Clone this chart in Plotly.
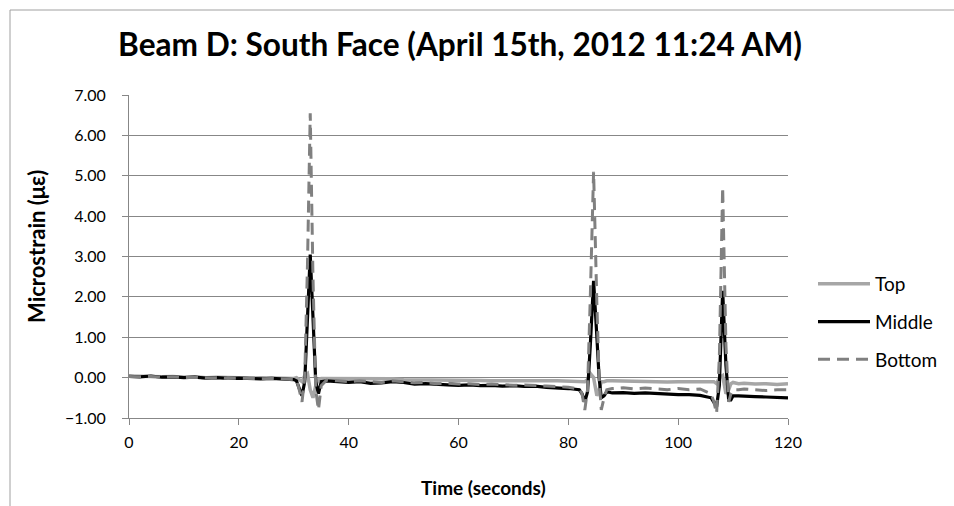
import plotly.graph_objects as go

# ---- data ----
time_s = [0, 2, 4, 6, 8, 10, 12, 14, 16, 18, 20, 22, 24, 26, 28, 30,
          30.5, 31, 31.5, 32, 32.5, 33, 33.5, 34, 34.5, 35,
          36, 38, 40, 42, 44, 46, 48, 50, 52, 54, 56, 58, 60, 62, 64, 66, 68, 70,
          72, 74, 76, 78, 80, 82,
          82.5, 83, 83.5, 84, 84.6, 85.2, 85.6, 86, 86.5, 87,
          88, 90, 92, 94, 96, 98, 100, 102, 104, 106,
          106.5, 107, 107.5, 108.1, 108.7, 109.2, 109.6, 110,
          111, 112, 114, 116, 118, 120]

top = [0.04, 0.03, 0.03, 0.02, 0.03, 0.01, 0.02, 0.0, 0.01, 0.0, 0.0, -0.01, 0.0, -0.01, -0.02, -0.02,
       0.0, -0.05, -0.1, 0.05, 0.1, -0.3, -0.5, -0.2, -0.05, -0.02,
       -0.02, -0.02, -0.03, -0.02, -0.03, -0.04, -0.03, -0.05, -0.05, -0.06, -0.06, -0.07, -0.07, -0.06,
       -0.07, -0.08, -0.07, -0.08, -0.08, -0.07, -0.08, -0.08, -0.08, -0.08,
       -0.08, -0.1, -0.05, 0.1, 0.0, -0.45, -0.3, -0.1, -0.1, -0.08,
       -0.08, -0.09, -0.1, -0.09, -0.1, -0.11, -0.1, -0.1, -0.08, -0.1,
       -0.1, -0.15, 0.0, 0.05, -0.4, -0.3, -0.15, -0.12,
       -0.15, -0.14, -0.16, -0.15, -0.17, -0.15]

middle = [0.03, 0.02, 0.04, 0.01, 0.02, 0.0, 0.01, -0.01, 0.0, -0.02, -0.01, -0.02, -0.03, -0.02, -0.04, -0.05,
          -0.08, -0.25, -0.45, -0.1, 1.3, 3.05, 1.5, -0.1, -0.4, -0.1,
          -0.08, -0.1, -0.12, -0.1, -0.14, -0.13, -0.1, -0.12, -0.16, -0.15, -0.17, -0.18, -0.19, -0.18,
          -0.2, -0.19, -0.21, -0.2, -0.22, -0.21, -0.24, -0.25, -0.27, -0.3,
          -0.4, -0.6, -0.35, 0.8, 2.4, 1.0, 0.0, -0.5, -0.45, -0.35,
          -0.38, -0.37, -0.39, -0.38, -0.4, -0.41, -0.42, -0.42, -0.44, -0.5,
          -0.6, -0.72, -0.2, 2.15, 0.3, -0.55, -0.55, -0.45,
          -0.45, -0.46, -0.47, -0.48, -0.5, -0.5]

bottom = [0.03, 0.02, 0.03, 0.01, 0.02, 0.0, 0.01, -0.01, 0.0, -0.02, -0.01, -0.02, -0.03, -0.02, -0.03, -0.04,
          -0.05, -0.3, -0.6, 0.0, 2.8, 6.55, 2.5, -0.3, -0.8, -0.2,
          -0.06, -0.08, -0.1, -0.08, -0.1, -0.12, -0.08, -0.1, -0.13, -0.12, -0.15, -0.14, -0.16, -0.15,
          -0.17, -0.16, -0.18, -0.19, -0.18, -0.2, -0.21, -0.22, -0.24, -0.28,
          -0.4, -0.8, -0.3, 2.0, 5.1, 1.8, 0.0, -0.8, -0.5, -0.3,
          -0.27, -0.25, -0.28, -0.26, -0.28, -0.3, -0.27, -0.3, -0.28, -0.4,
          -0.6, -0.89, 0.5, 4.72, 0.8, -0.6, -0.4, -0.3,
          -0.3, -0.28, -0.3, -0.32, -0.3, -0.3]

x_ticks = [0, 20, 40, 60, 80, 100, 120]
y_ticks = [-1, 0, 1, 2, 3, 4, 5, 6, 7]

FONT = "Lato"
GRID = "#878787"

W, H = 954, 506
ML, MT, PW, PH = 129, 95, 659, 323


def px_x(page_x):
    return (page_x - ML) / PW


def px_y(page_y):
    return (MT + PH - page_y) / PH


fig = go.Figure()
fig.add_trace(go.Scatter(x=time_s, y=top, mode="lines", name="Top", legendgroup="a",
                         line=dict(color="#A6A6A6", width=3.5)))
fig.add_trace(go.Scatter(x=time_s, y=middle, mode="lines", name="Middle", legendgroup="b",
                         line=dict(color="#000000", width=3.2)))
fig.add_trace(go.Scatter(x=time_s, y=bottom, mode="lines", name="Bottom", legendgroup="c",
                         line=dict(color="#808080", width=3, dash="12px,7px")))

bx = px_x(10)
by = px_y(10)

fig.update_layout(
    width=W, height=H,
    margin=dict(l=ML, r=W - ML - PW, t=MT, b=H - MT - PH, autoexpand=False),
    paper_bgcolor="white", plot_bgcolor="white",
    font=dict(family=FONT, size=16, color="#000000"),
    title=dict(text="<b>Beam D: South Face (April 15th, 2012 11:24 AM)</b>",
               x=px_x(460), xanchor="center", xref="paper",
               y=1 - 45 / H, yanchor="middle",
               font=dict(family=FONT, size=31.6, color="#000000")),
    showlegend=True,
    legend=dict(x=px_x(813), y=px_y(322), xanchor="left", yanchor="middle",
                font=dict(family=FONT, size=19), itemwidth=52,
                tracegroupgap=10, bgcolor="rgba(0,0,0,0)"),
    xaxis=dict(range=[0, 120], tickvals=x_ticks, showgrid=False, zeroline=False,
               showline=True, linecolor=GRID, linewidth=1, automargin=False,
               ticks="outside", ticklen=6, tickcolor=GRID, ticklabelstandoff=4),
    yaxis=dict(range=[-1, 7], tickvals=y_ticks, tickformat=".2f", showgrid=True,
               gridcolor=GRID, gridwidth=1, zeroline=False, automargin=False,
               showline=True, linecolor=GRID, linewidth=1,
               ticks="outside", ticklen=6, tickcolor=GRID, ticklabelstandoff=13),
    annotations=[
        dict(text="<b>Time (seconds)</b>", xref="paper", yref="paper",
             x=px_x(483.5), y=px_y(487), xanchor="center", yanchor="middle",
             showarrow=False, font=dict(family=FONT, size=19)),
        dict(text="<b>Microstrain (με)</b>", xref="paper", yref="paper",
             x=px_x(36), y=px_y(247), xanchor="center", yanchor="middle",
             textangle=-90, showarrow=False, font=dict(family=FONT, size=22)),
    ],
    shapes=[dict(type="line", xref="paper", yref="paper",
                 x0=bx, x1=px_x(W), y0=by, y1=by,
                 line=dict(color="#A0A0A0", width=1)),
            dict(type="line", xref="paper", yref="paper",
                 x0=bx, x1=bx, y0=px_y(H), y1=by,
                 line=dict(color="#A0A0A0", width=1))],
)

fig.write_html(
    "out.html",
    config={"displayModeBar": False},
    post_script="document.body.style.margin='0';document.body.style.overflow='hidden';",
)
